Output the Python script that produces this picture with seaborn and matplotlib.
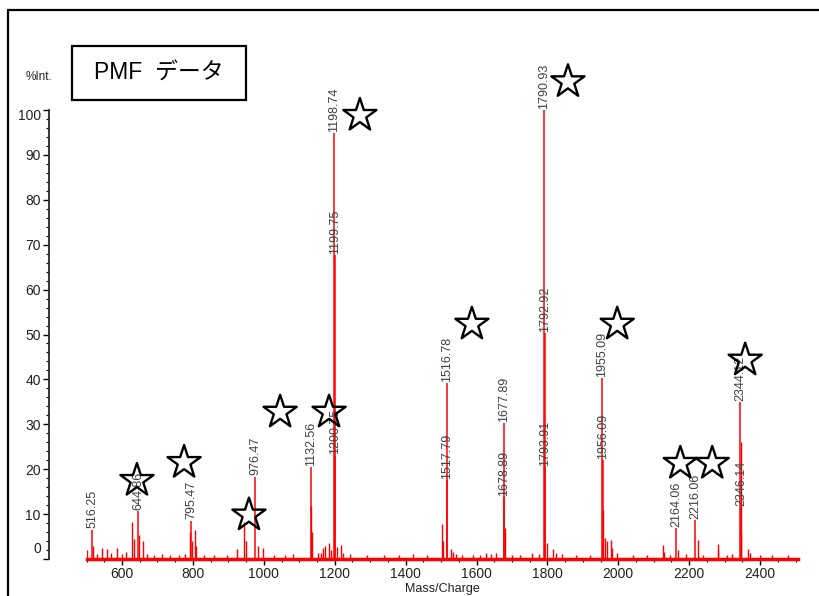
import numpy as np
import matplotlib
matplotlib.use("Agg")
import matplotlib.pyplot as plt
from matplotlib.lines import Line2D
from matplotlib.patches import Rectangle
from matplotlib.ticker import MultipleLocator, FixedLocator, FixedFormatter
import seaborn as sns

sns.set_style("ticks")
plt.rcParams["font.family"] = ["Liberation Sans Narrow", "Liberation Sans",
                               "Noto Sans CJK JP", "DejaVu Sans"]

# labelled peaks (m/z, %Int.)
peak_mz = [516.25, 644.86, 795.47, 976.47, 1132.56, 1198.74, 1199.75, 1200.75,
           1516.78, 1517.79, 1677.89, 1678.89, 1790.93, 1792.92, 1793.91,
           1955.09, 1956.09, 2164.06, 2216.06, 2344.12, 2346.14]
peak_int = [6.5, 10.6, 8.5, 18.3, 20.5, 94.9, 67.7, 23.0,
            39.2, 17.6, 30.3, 13.8, 100.0, 50.3, 20.5,
            40.3, 22.0, 6.8, 8.7, 35.0, 11.6]

# unlabelled peaks and noise
minor_mz = [502, 517.5, 530, 543, 557, 568, 585, 600, 612, 629, 633, 646.5, 658, 670,
            690, 712, 735, 760, 778, 793, 797, 805, 809, 830, 860, 895, 923, 945,
            949, 983, 999, 1030, 1060, 1081, 1134, 1136, 1154, 1160, 1168, 1173,
            1185, 1189, 1206, 1218, 1223, 1243, 1290, 1340, 1380, 1422, 1460,
            1502, 1505, 1527, 1535, 1543, 1560, 1591, 1610, 1627, 1641, 1655,
            1680, 1700, 1723, 1756, 1777, 1798, 1815, 1825, 1840, 1880, 1920,
            1957, 1963, 1968, 1979, 1982, 1996, 2041, 2080, 2127, 2130, 2146,
            2169.5, 2191, 2224, 2240, 2280, 2282.5, 2306, 2320, 2345.13, 2347.5,
            2365, 2372, 2400, 2433, 2480]
minor_int = [2.0, 3.0, 1.2, 2.4, 2.2, 1.3, 2.5, 1.2, 1.5, 8.3, 4.4, 5.3, 3.9, 1.2,
             1.0, 1.1, 0.9, 1.0, 1.1, 6.0, 4.0, 6.5, 3.0, 1.0, 0.9, 0.9, 2.2, 8.3,
             3.9, 3.0, 2.5, 0.9, 0.9, 1.1, 11.8, 6.1, 1.4, 1.3, 2.4, 3.0,
             3.5, 2.0, 2.7, 3.1, 1.3, 1.1, 0.9, 0.9, 0.9, 1.1, 0.9,
             7.8, 4.1, 2.2, 1.6, 1.2, 1.0, 0.9, 0.9, 1.3, 1.2, 1.4,
             7.0, 1.0, 1.0, 1.3, 1.2, 3.6, 2.2, 1.4, 1.2, 0.9, 1.0,
             10.9, 4.6, 3.9, 4.2, 2.5, 1.4, 0.9, 0.9, 3.1, 1.6, 1.0,
             2.0, 1.1, 4.2, 1.0, 3.3, 2.0, 1.0, 1.1, 26.0, 6.0,
             2.2, 1.3, 0.9, 0.9, 0.8]

# star annotations (m/z, %Int.)
star_mz = [642, 775, 958, 1046, 1184, 1271, 1587, 1858, 1997, 2175, 2265, 2358]
star_int = [17.5, 21.5, 9.8, 32.7, 32.7, 98.8, 52.3, 106.3, 52.3, 21.3, 21.3, 44.3]

y_ticks = [0, 10, 20, 30, 40, 50, 60, 70, 80, 90, 100]
title = "PMF  データ"

W, H = 819, 596
fig = plt.figure(figsize=(W / 100, H / 100), dpi=100)
ax = fig.add_axes([86.6 / W, 1 - 559 / H, (798 - 86.6) / W, (559 - 110) / H])

ax.vlines(minor_mz, 0, minor_int, color="red", lw=1.0, zorder=2)
ax.vlines(peak_mz, 0, peak_int, color="red", lw=1.1, zorder=2)

for mz, h in zip(peak_mz, peak_int):
    ax.text(mz, h + 0.3, f"{mz:.2f}", rotation=90, ha="center", va="bottom",
            fontsize=9, color="#404040", clip_on=False, zorder=3)

sns.scatterplot(x=star_mz, y=star_int, marker="*", s=630, facecolor="none",
                edgecolor="black", linewidth=1.7, clip_on=False, zorder=5,
                legend=False, ax=ax)

ax.set_xlim(500, 2507)
ax.set_ylim(0, 100)
ax.xaxis.set_major_locator(MultipleLocator(200))
ax.xaxis.set_minor_locator(MultipleLocator(50))
ax.yaxis.set_major_locator(FixedLocator(y_ticks))
ax.yaxis.set_minor_locator(MultipleLocator(2))
# end labels are drawn separately, shifted inward as in the original software
ax.yaxis.set_major_formatter(FixedFormatter(
    ["" if v in (0, 100) else str(v) for v in y_ticks]))

for side in ["top", "right"]:
    ax.spines[side].set_visible(False)
ax.spines["left"].set_position(("outward", 27))
ax.spines["left"].set_linewidth(1.3)
ax.spines["bottom"].set_color("red")
ax.spines["bottom"].set_linewidth(2.5)

ax.tick_params(axis="both", which="major", length=4, width=1, color="black",
               labelsize=10, labelcolor="#222222", pad=2)
ax.tick_params(axis="both", which="minor", length=2.5, width=0.8, color="black")
ax.set_xlabel("Mass/Charge", fontsize=9, color="#222222", labelpad=1)

for v, dy in [(0, 7), (100, -4)]:
    ax.annotate(str(v), xy=(0, v), xycoords=("axes fraction", "data"),
                xytext=(-33, dy), textcoords="offset points", ha="right",
                va="center", fontsize=10, color="#222222", annotation_clip=False)

fig.text(39 / W, 1 - 77 / H, "%Int.", ha="center", va="center", fontsize=8.5,
         color="#222222")

# title box
fig.add_artist(Rectangle((72 / W, 1 - 100 / H), (246 - 72) / W, (100 - 46) / H,
                         transform=fig.transFigure, fill=False, ec="black", lw=1.6))
fig.text(159 / W, 1 - 73 / H, title, ha="center", va="center", fontsize=16.5,
         color="black")

# outer frame (cut off on right and bottom)
fig.add_artist(Line2D([8 / W, 8 / W], [0, 1 - 10 / H], transform=fig.transFigure,
                      color="black", lw=1.6))
fig.add_artist(Line2D([8 / W, 1], [1 - 10 / H, 1 - 10 / H], transform=fig.transFigure,
                      color="black", lw=1.6))

fig.savefig("out.png", dpi=100)
plt.close(fig)
